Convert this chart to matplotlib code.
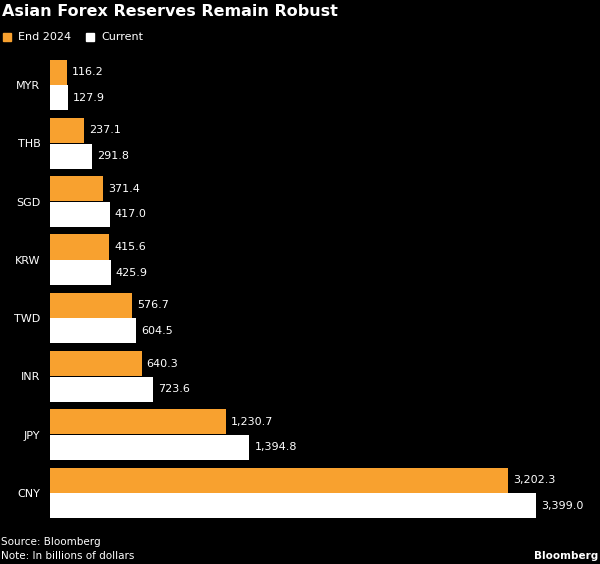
import matplotlib.pyplot as plt
import numpy as np

categories = ["MYR", "THB", "SGD", "KRW", "TWD", "INR", "JPY", "CNY"]
end_2024 = [116.2, 237.1, 371.4, 415.6, 576.7, 640.3, 1230.7, 3202.3]
current = [127.9, 291.8, 417.0, 425.9, 604.5, 723.6, 1394.8, 3399.0]

ORANGE = "#f8a12f"
BG = "black"

fig = plt.figure(figsize=(6, 5.64), dpi=100, facecolor=BG)
ax = fig.add_axes([50 / 600, 1 - 525 / 564, 550 / 600, 470 / 564])
ax.set_facecolor(BG)

y = np.arange(len(categories))
h = 0.43
ax.barh(y - 0.22, end_2024, height=h, color=ORANGE)
ax.barh(y + 0.22, current, height=h, color="white")

for yi, v in zip(y, end_2024):
    ax.text(v + 35, yi - 0.22, f"{v:,.1f}", color="white", fontsize=8,
            va="center", ha="left")
for yi, v in zip(y, current):
    ax.text(v + 35, yi + 0.22, f"{v:,.1f}", color="white", fontsize=8,
            va="center", ha="left")

ax.set_xlim(0, 550 / 0.143)
ax.set_ylim(7.55, -0.515)
ax.set_yticks(y)
ax.set_yticklabels(categories, color="white", fontsize=8)
ax.tick_params(axis="y", length=0, pad=7)
ax.set_xticks([])
for s in ax.spines.values():
    s.set_visible(False)

fig.text(2 / 600, 1 - 11 / 564, "Asian Forex Reserves Remain Robust", color="white",
         fontsize=11.5, fontweight="bold", va="center", ha="left")

# legend
fig.patches.append(plt.Rectangle((3 / 600, 1 - 41 / 564), 8 / 600, 8 / 564,
                                 transform=fig.transFigure, color=ORANGE))
fig.text(18 / 600, 1 - 37 / 564, "End 2024", color="white", fontsize=8, va="center")
fig.patches.append(plt.Rectangle((86 / 600, 1 - 41 / 564), 8 / 600, 8 / 564,
                                 transform=fig.transFigure, color="white"))
fig.text(101 / 600, 1 - 37 / 564, "Current", color="white", fontsize=8, va="center")

fig.text(1 / 600, 1 - 542 / 564, "Source: Bloomberg", color="white", fontsize=7.5, va="center")
fig.text(1 / 600, 1 - 556 / 564, "Note: In billions of dollars", color="white", fontsize=7.5,
         va="center")
fig.text(598 / 600, 1 - 556 / 564, "Bloomberg", color="white", fontsize=7.5,
         fontweight="bold", va="center", ha="right")

fig.savefig("out.png", dpi=100, facecolor=BG)
